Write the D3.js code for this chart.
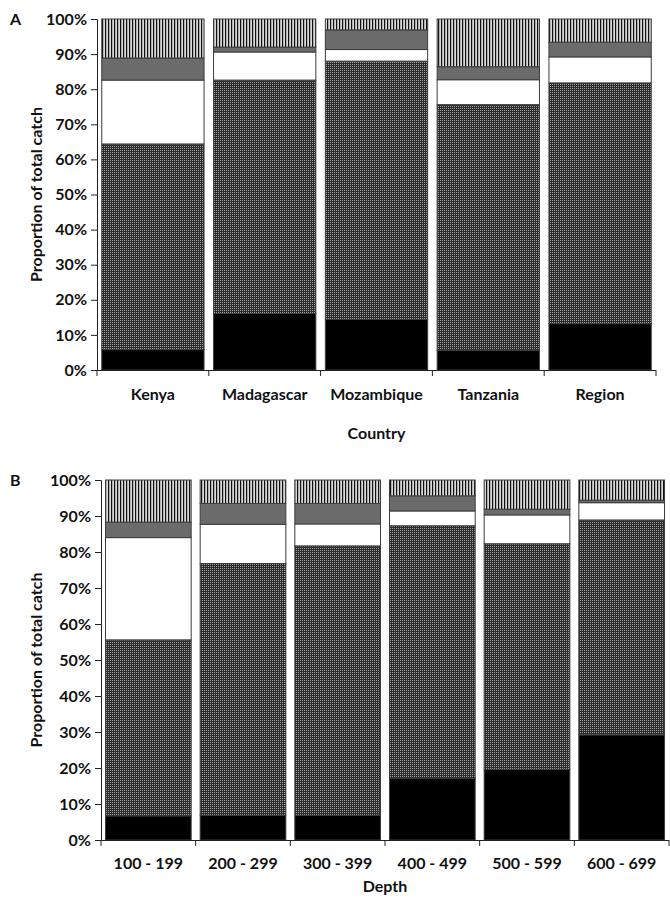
<!DOCTYPE html>
<html><head><meta charset="utf-8">
<script src="https://cdn.jsdelivr.net/npm/d3@7"></script>
<style>body{margin:0;background:#fff}svg{display:block}text{font-family:Lato,"Open Sans",sans-serif;font-weight:700;fill:#111}</style>
</head><body><svg id="c" width="670" height="900"></svg>
<script>
// Series order from bottom to top
const seriesKeys = ["s1","s2","s3","s4","s5"];
// Panel A segment proportions (%)
const countries = ["Kenya","Madagascar","Mozambique","Tanzania","Region"];
const countryS1 = [5.8, 16.1, 14.4, 5.6, 13.2];   // black
const countryS2 = [58.6, 66.5, 73.6, 70.0, 68.6]; // dotted
const countryS3 = [18.2, 8.0, 3.3, 7.1, 7.4];     // white
const countryS4 = [6.3, 1.4, 5.6, 3.7, 4.2];      // dark gray
const countryS5 = [11.1, 8.0, 3.1, 13.6, 6.6];    // vertical stripes
// Panel B
const depths = ["100 - 199","200 - 299","300 - 399","400 - 499","500 - 599","600 - 699"];
const depthS1 = [6.7, 6.9, 6.9, 17.1, 19.6, 29.2];
const depthS2 = [48.9, 69.9, 74.8, 70.2, 62.7, 59.7];
const depthS3 = [28.4, 10.9, 6.1, 4.1, 8.0, 4.8];
const depthS4 = [4.3, 5.8, 5.7, 4.2, 1.6, 0.7];
const depthS5 = [11.7, 6.5, 6.5, 4.4, 8.1, 5.6];
const yTicks = [0,10,20,30,40,50,60,70,80,90,100];

const FS = 16;
const svg = d3.select("#c");
const defs = svg.append("defs");
const pd = defs.append("pattern").attr("id","dots").attr("patternUnits","userSpaceOnUse").attr("width",2).attr("height",2);
pd.append("rect").attr("width",2).attr("height",2).attr("fill","#2c2c2c");
pd.append("rect").attr("width",1).attr("height",1).attr("fill","#a0a0a0");
const ps = defs.append("pattern").attr("id","stripes").attr("patternUnits","userSpaceOnUse").attr("width",3).attr("height",3);
ps.append("rect").attr("width",3).attr("height",3).attr("fill","#d8d8d8");
ps.append("rect").attr("width",1.2).attr("height",3).attr("fill","#111");

const fills = {s1:"#000", s2:"url(#dots)", s3:"#fff", s4:"#6b6b6b", s5:"url(#stripes)"};

function panel(cfg){
  const {cats, series, x0, x1, top, bottom, letter, xTitle, xTitleY, labelY, padIn} = cfg;
  const rows = cats.map((c,i)=>{const o={cat:c}; seriesKeys.forEach((k,j)=>o[k]=series[j][i]); return o;});
  const stack = d3.stack().keys(seriesKeys)(rows);
  const x = d3.scaleBand().domain(cats).range([x0,x1]).paddingInner(padIn).paddingOuter(padIn/2);
  const y = d3.scaleLinear().domain([0,100]).range([bottom,top]);
  const g = svg.append("g");
  stack.forEach(layer=>{
    g.selectAll(null).data(layer).enter().append("rect")
      .attr("x",d=>x(d.data.cat)).attr("width",x.bandwidth())
      .attr("y",d=>y(Math.min(100,d[1]))).attr("height",d=>y(d[0])-y(Math.min(100,d[1])))
      .attr("fill",fills[layer.key]).attr("stroke","#3c3c3c").attr("stroke-width",1);
  });
  const ya = svg.append("g").attr("transform",`translate(${x0},0)`)
    .call(d3.axisLeft(y).tickValues(yTicks).tickFormat(d=>d+"%").tickSize(6).tickPadding(4));
  ya.select(".domain").attr("stroke","#222");
  ya.selectAll(".tick line").attr("stroke","#222");
  ya.selectAll("text").attr("font-size",FS).attr("font-family","Lato").attr("font-weight",700).attr("fill","#111");
  const xa = svg.append("g");
  xa.append("line").attr("x1",x0).attr("x2",x1).attr("y1",bottom+0.5).attr("y2",bottom+0.5).attr("stroke","#222");
  const step = x.step();
  const bounds = d3.range(cats.length+1).map(i=> i===cats.length ? x1 : (i===0 ? x0 : x(cats[i]) - step*padIn/2));
  xa.selectAll(null).data(bounds).enter().append("line")
    .attr("x1",d=>d).attr("x2",d=>d).attr("y1",bottom).attr("y2",bottom+6).attr("stroke","#222");
  xa.selectAll(null).data(cats).enter().append("text")
    .attr("x",d=>x(d)+x.bandwidth()/2).attr("y",labelY).attr("text-anchor","middle").attr("font-size",FS).text(d=>d);
  svg.append("text").attr("x",(x0+x1)/2).attr("y",xTitleY).attr("text-anchor","middle").attr("font-size",FS).text(xTitle);
  svg.append("text").attr("transform",`translate(42,${(top+bottom)/2}) rotate(-90)`).attr("text-anchor","middle").attr("font-size",FS).text("Proportion of total catch");
  svg.append("text").attr("x",10).attr("y",top+6).attr("font-size",FS).text(letter);
}

panel({cats:countries, series:[countryS1,countryS2,countryS3,countryS4,countryS5],
  x0:97, x1:656, top:19, bottom:370, letter:"A", xTitle:"Country", xTitleY:439, labelY:400, padIn:0.085});
panel({cats:depths, series:[depthS1,depthS2,depthS3,depthS4,depthS5],
  x0:101, x1:669, top:480, bottom:840, letter:"B", xTitle:"Depth", xTitleY:892, labelY:869, padIn:0.095});
</script></body></html>
